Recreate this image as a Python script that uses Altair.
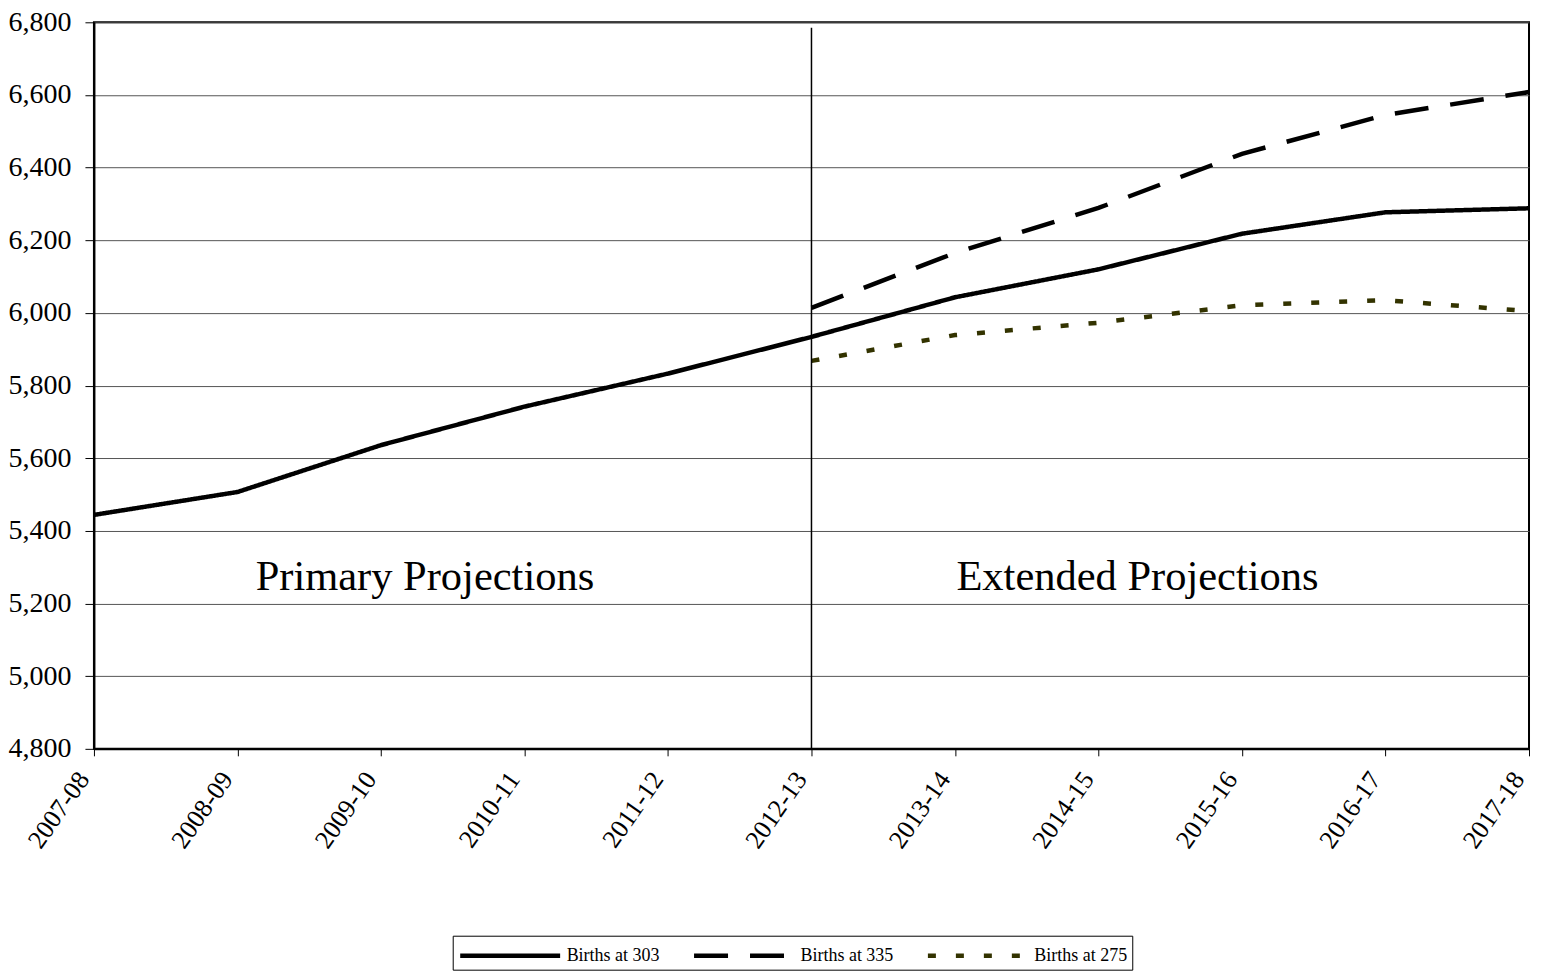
import altair as alt
import pandas as pd

years = ["2007-08", "2008-09", "2009-10", "2010-11", "2011-12", "2012-13",
         "2013-14", "2014-15", "2015-16", "2016-17", "2017-18"]
births_303 = [5444, 5507, 5636, 5742, 5833, 5934, 6043, 6120, 6218, 6277, 6288]
births_335 = [None, None, None, None, None, 6014, 6165, 6289, 6438, 6545, 6608]
births_275 = [None, None, None, None, None, 5868, 5939, 5973, 6021, 6035, 6005]
series = ["Births at 303", "Births at 335", "Births at 275"]
y_ticks = [4800, 5000, 5200, 5400, 5600, 5800, 6000, 6200, 6400, 6600, 6800]

annot_text = ["Primary Projections", "Extended Projections"]
annot_year = ["2009-10", "2014-15"]
annot_val = [5272, 5272]

rows = []
for name, vals in zip(series, [births_303, births_335, births_275]):
    for i, (yr, v) in enumerate(zip(years, vals)):
        if v is not None:
            rows.append({"year": yr, "value": v, "series": name, "idx": i})
df = pd.DataFrame(rows)

FONT = "Liberation Serif"

legend = alt.Legend(
    orient="none", legendX=359, legendY=914, direction="horizontal",
    symbolType="M-1,0H7", symbolSize=625, symbolStrokeWidth=4.5,
    labelFont=FONT, labelFontSize=18, labelColor="black",
    strokeColor="black", padding=5, columnPadding=25, labelOffset=79,
)

yscale = alt.Scale(domain=[4800, 6800], nice=False, zero=False)
xscale = alt.Scale(type="point", padding=0, domain=years)
xaxis = alt.Axis(title=None, labelAngle=305, labelAlign="right", labelBaseline="bottom",
                 labelPadding=26, tickSize=7, grid=False, labelFontSize=26, labelFont=FONT,
                 labelColor="black", domainColor="black", domainWidth=2, tickColor="black")
yaxis = alt.Axis(title=None, values=y_ticks, format=",.0f", grid=True,
                 gridColor="#555555", gridWidth=1, tickSize=9, labelPadding=14,
                 labelFont=FONT, labelFontSize=28, labelColor="black",
                 domainColor="black", domainWidth=2, tickColor="black")

X = alt.X("year:N", sort=years, scale=xscale, axis=xaxis)
Y = alt.Y("value:Q", scale=yscale, axis=yaxis)

lines = alt.Chart(df).mark_line(strokeWidth=4.5).encode(
    x=X, y=Y,
    color=alt.Color("series:N", title=None,
                    scale=alt.Scale(domain=series, range=["#000000", "#000000", "#333300"]),
                    legend=legend),
    strokeDash=alt.StrokeDash("series:N", title=None,
                              scale=alt.Scale(domain=series, range=[[1, 0], [34, 22], [8, 20]]),
                              legend=legend),
    order="idx:Q",
)

rule_df = pd.DataFrame({"year": ["2012-13"], "value": [4800], "hi": [6785]})
rule = alt.Chart(rule_df).mark_rule(color="black", strokeWidth=1.5).encode(
    x=X, y=Y, y2="hi:Q")

annot_df = pd.DataFrame({"year": annot_year, "value": annot_val, "text": annot_text})

text1 = alt.Chart(annot_df.iloc[[0]]).mark_text(font=FONT, fontSize=42.5, color="black",
                                                align="center", baseline="middle", dx=44).encode(
    x=X, y=Y, text="text:N")
text2 = alt.Chart(annot_df.iloc[[1]]).mark_text(font=FONT, fontSize=42.5, color="black",
                                                align="center", baseline="middle", dx=39).encode(
    x=X, y=Y, text="text:N")

chart = alt.layer(lines, rule, text1, text2).properties(
    width=1436, height=727, background="white",
    padding={"left": 0, "top": 0, "right": 0, "bottom": 0}
).configure_view(
    stroke="black", strokeWidth=2
)

chart.save("out.html", embed_options={"renderer": "svg", "actions": False})
